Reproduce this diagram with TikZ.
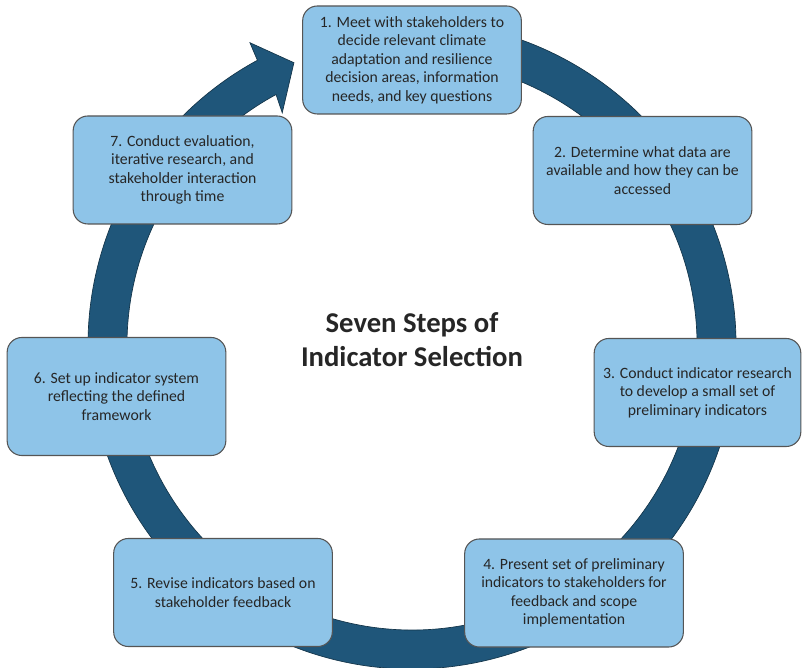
\documentclass[tikz,border=0pt]{standalone}
\usepackage{fontspec}
\setmainfont{Carlito}
\usetikzlibrary{calc}
\definecolor{ringblue}{RGB}{31,86,122}
\definecolor{boxblue}{RGB}{142,196,232}
\definecolor{boxline}{RGB}{85,85,85}
\definecolor{txtgray}{RGB}{38,38,38}
\begin{document}
\begin{tikzpicture}[x=0.75pt,y=0.75pt,
  every node/.style={text=txtgray},
  stepbox/.style={draw=boxline,fill=boxblue,rounded corners=11pt,line width=0.8pt,
    minimum width=164pt,minimum height=81pt,inner sep=2pt,align=center,
    font=\fontsize{11.8}{13.9}\selectfont}]
   \useasboundingbox (0,0) rectangle (802,667);
   \coordinate (c) at (412,322);
   % ring with arrow head
   \filldraw[fill=ringblue,draw=ringblue!60!black,line width=0.5pt]
     ($(c)+(100:324)$) arc[start angle=100,end angle=-241.5,radius=243pt]
     -- ($(c)+(118.2:343)$) -- ($(c)+(112.7:306)$) -- ($(c)+(119.2:266)$)
     -- ($(c)+(118.5:285)$) arc[start angle=118.5,end angle=460,radius=213.75pt]
     -- cycle;
   \node[stepbox] (s1) at (412,607) {1. Meet with stakeholders to\\decide relevant climate\\adaptation and resilience\\decision areas, information\\needs, and key questions};
   \node[stepbox] (s2) at (642.5,496.5) {2. Determine what data are\\available and how they can be\\accessed};
   \node[stepbox,minimum width=155pt] (s3) at (697.5,274.5) {3. Conduct indicator research\\to develop a small set of\\preliminary indicators};
   \node[stepbox] (s4) at (574,74) {4. Present set of preliminary\\indicators to stakeholders for\\feedback and scope\\implementation};
   \node[stepbox] (s5) at (223,74.5) {5. Revise indicators based on\\stakeholder feedback};
   \node[stepbox,minimum height=88.5pt] (s6) at (116.5,270.5) {6. Set up indicator system\\reflecting the defined\\framework};
   \node[stepbox] (s7) at (182.5,497) {7. Conduct evaluation,\\iterative research, and\\stakeholder interaction\\through time};
   \node[align=center,font=\fontsize{21.5}{25.5}\selectfont\bfseries] (title) at (412,327) {Seven Steps of\\Indicator Selection};
\end{tikzpicture}
\end{document}
